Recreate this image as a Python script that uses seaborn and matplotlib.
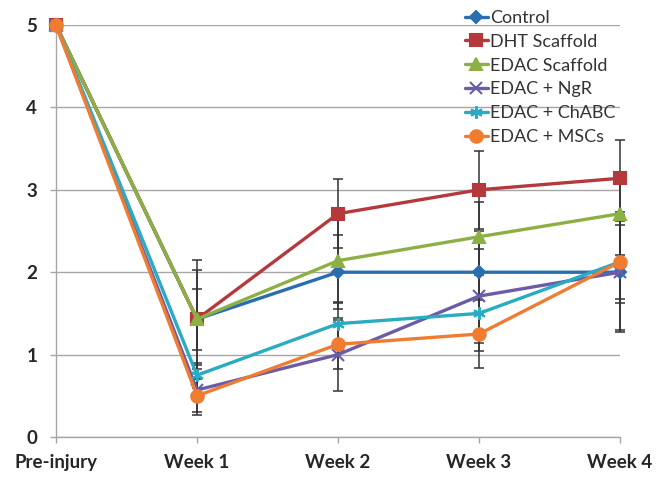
import numpy as np
import pandas as pd
import matplotlib
matplotlib.use("Agg")
import matplotlib.pyplot as plt
import seaborn as sns

# Time points and group names
timepoints = ["Pre-injury", "Week 1", "Week 2", "Week 3", "Week 4"]
groups = ["Control", "DHT Scaffold", "EDAC Scaffold", "EDAC + NgR", "EDAC + ChABC", "EDAC + MSCs"]

# Mean scores per group
control = [5, 1.43, 2.0, 2.0, 2.0]
dht_scaffold = [5, 1.43, 2.71, 3.0, 3.14]
edac_scaffold = [5, 1.43, 2.14, 2.43, 2.71]
edac_ngr = [5, 0.57, 1.0, 1.71, 2.0]
edac_chabc = [5, 0.75, 1.375, 1.5, 2.125]
edac_mscs = [5, 0.5, 1.125, 1.25, 2.125]

# Error (± half-range) per group
control_err = [0, 0.60, 0.45, 0.50, 0.70]
dht_scaffold_err = [0, 0.72, 0.42, 0.47, 0.46]
edac_scaffold_err = [0, 0.37, 0.50, 0.42, 0.50]
edac_ngr_err = [0, 0.30, 0.44, 0.57, 0.73]
edac_chabc_err = [0, 0.15, 0.25, 0.46, 0.50]
edac_mscs_err = [0, 0.20, 0.30, 0.41, 0.45]

means = [control, dht_scaffold, edac_scaffold, edac_ngr, edac_chabc, edac_mscs]
errs = [control_err, dht_scaffold_err, edac_scaffold_err, edac_ngr_err, edac_chabc_err, edac_mscs_err]

colors = ["#2a6eb0", "#b5393c", "#8cb043", "#6c5ca8", "#2aabc2", "#f07c32"]
markers = ["D", "s", "^", "x", (6, 2, 0), "o"]
msizes = [6, 8, 8, 8, 9, 9]

rows = []
for g, vals in zip(groups, means):
    for i, v in enumerate(vals):
        rows.append({"group": g, "pos": i, "score": v})
df = pd.DataFrame(rows)

sns.set_theme(style="white")
plt.rcParams["font.family"] = ["Lato", "DejaVu Sans"]

fig = plt.figure(figsize=(6.62, 4.78), dpi=100)
ax = fig.add_axes([56 / 662, 41 / 478, 564 / 662, 412 / 478])

# Error bars behind the lines
for vals, e in zip(means, errs):
    ax.errorbar(range(len(timepoints)), vals, yerr=e, fmt="none",
                ecolor="#333333", elinewidth=1.1, capsize=3.5, capthick=1.1,
                zorder=2, clip_on=False)

for g, c, m, ms in zip(groups, colors, markers, msizes):
    sub = df[df["group"] == g]
    sns.lineplot(data=sub, x="pos", y="score", ax=ax, color=c, marker=m,
                 markersize=ms, markeredgecolor=c, markeredgewidth=1.5,
                 linewidth=2.4, label=g, zorder=3, clip_on=False)

ax.set_xlim(0, 4)
ax.set_ylim(0, 5)
ax.set_xticks(range(len(timepoints)))
ax.set_xticklabels(timepoints)
ax.set_yticks(range(0, 6))
ax.set_xlabel("")
ax.set_ylabel("")

ax.yaxis.grid(True, color="#a6a6a6", linewidth=1.0)
ax.set_axisbelow(True)
for s in ["top", "right"]:
    ax.spines[s].set_visible(False)
for s in ["left", "bottom"]:
    ax.spines[s].set_color("#a6a6a6")
    ax.spines[s].set_linewidth(1.0)

ax.tick_params(axis="both", which="major", length=4.5, width=1.0,
               color="#a6a6a6", labelsize=13.5, labelcolor="#262626",
               bottom=True, left=True)
ax.tick_params(axis="y", pad=9)
ax.tick_params(axis="x", pad=8)
for lab in ax.get_xticklabels() + ax.get_yticklabels():
    lab.set_fontweight("bold")

leg = ax.legend(loc="upper left", bbox_to_anchor=(465 / 662, 1 - 10 / 478),
                bbox_transform=fig.transFigure, frameon=False, fontsize=13,
                handlelength=1.25, handletextpad=0.15, labelspacing=0.43,
                borderpad=0.0, borderaxespad=0.0)
for t in leg.get_texts():
    t.set_color("#333333")

fig.savefig("out.png", dpi=100)
